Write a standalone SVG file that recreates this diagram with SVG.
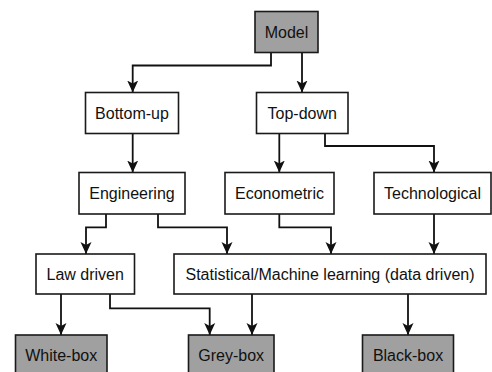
<svg xmlns="http://www.w3.org/2000/svg" width="492" height="372" viewBox="0 0 492 372">
<defs>
<style>
.box{fill:#ffffff;stroke:#1a1a1a;stroke-width:1.6}
.dark{fill:#a0a0a0;stroke:#1a1a1a;stroke-width:1.6}
.lbl{font-family:"Liberation Sans",Arial,sans-serif;font-size:16px;fill:#111;text-anchor:middle}
.edge{fill:none;stroke:#111;stroke-width:1.8;marker-end:url(#ah)}
</style>
<marker id="ah" markerUnits="userSpaceOnUse" markerWidth="12" markerHeight="12" viewBox="0 0 12 12" refX="12" refY="6" orient="auto">
<path d="M0,0.5 L12,6 L0,11.5 L3,6 z" fill="#111"/>
</marker>
</defs>
<rect width="492" height="372" fill="#ffffff"/>
<g id="connectors">
<path class="edge" d="M271,52.5 V65.5 H132.7 V92.5"/>
<path class="edge" d="M302,52.5 V92.5"/>
<path class="edge" d="M132.7,133.5 V172.5"/>
<path class="edge" d="M279.3,133.5 V172.5"/>
<path class="edge" d="M325,133.5 V146 H434 V172.5"/>
<path class="edge" d="M106,214 V227.3 H86 V254"/>
<path class="edge" d="M158,214 V227.3 H227 V254"/>
<path class="edge" d="M279.3,214 V227.3 H331 V254"/>
<path class="edge" d="M434,214 V254"/>
<path class="edge" d="M61,294 V335"/>
<path class="edge" d="M110,294 V308.3 H209.7 V335"/>
<path class="edge" d="M252,294 V335"/>
<path class="edge" d="M408,294 V335"/>
</g>
<g id="model"><rect class="dark" x="255" y="11.5" width="63" height="41"/><text class="lbl" x="286.5" y="37.5">Model</text></g>
<g id="bottom-up"><rect class="box" x="85.5" y="92.5" width="93" height="41"/><text class="lbl" x="132" y="118.5">Bottom-up</text></g>
<g id="top-down"><rect class="box" x="256.5" y="92.5" width="91.5" height="41"/><text class="lbl" x="302.2" y="118.5">Top-down</text></g>
<g id="engineering"><rect class="box" x="79" y="172.5" width="106" height="41.5"/><text class="lbl" x="132" y="198.8">Engineering</text></g>
<g id="econometric"><rect class="box" x="225" y="172.5" width="109" height="41.5"/><text class="lbl" x="279.5" y="198.8">Econometric</text></g>
<g id="technological"><rect class="box" x="374" y="172.5" width="117" height="41.5"/><text class="lbl" x="432.5" y="198.8">Technological</text></g>
<g id="law-driven"><rect class="box" x="36" y="254" width="98.5" height="40"/><text class="lbl" x="85.2" y="279.5">Law driven</text></g>
<g id="statistical"><rect class="box" x="174" y="254" width="312" height="40"/><text class="lbl" x="330" y="279.5">Statistical/Machine learning (data driven)</text></g>
<g id="white-box"><rect class="dark" x="15.5" y="335" width="91.5" height="42"/><text class="lbl" x="61.2" y="361">White-box</text></g>
<g id="grey-box"><rect class="dark" x="188.5" y="335" width="85.5" height="42"/><text class="lbl" x="231.2" y="361">Grey-box</text></g>
<g id="black-box"><rect class="dark" x="362.5" y="335" width="91" height="42"/><text class="lbl" x="408" y="361">Black-box</text></g>
</svg>
